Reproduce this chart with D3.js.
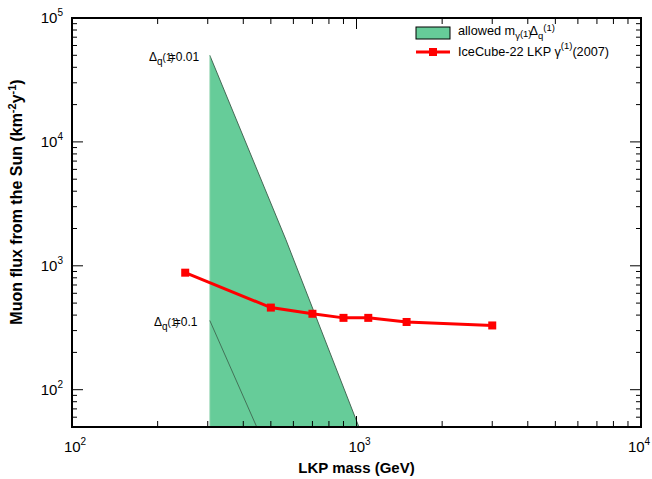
<!DOCTYPE html>
<html><head><meta charset="utf-8">
<script src="https://cdn.jsdelivr.net/npm/d3@7"></script>
<style>body{margin:0;background:#fff}svg{display:block}text{font-family:"Liberation Sans",Arial,Helvetica,sans-serif}</style>
</head><body><svg id="c" width="652" height="479"></svg>
<script>
// Data
const lkpMass = [250, 500, 700, 900, 1100, 1500, 3000];
const lkpFlux = [880, 460, 410, 380, 380, 352, 330];
const allowedMass = [305, 565, 1020];           // upper boundary, Delta=0.01
const allowedFlux = [50000, 1620, 50];
const delta01Mass = [305, 446];
const delta01Flux = [362, 50];
const xTicks = [100, 1000, 10000];
const yTicks = [100, 1000, 10000, 100000];
const xDomain = [100, 10000];
const yDomain = [50, 100000];

const svg = d3.select("#c");
const L = 72, R = 641, T = 18, B = 427;
const x = d3.scaleLog().domain(xDomain).range([L, R]);
const y = d3.scaleLog().domain(yDomain).range([B, T]);

// Allowed region
const poly = [[allowedMass[0], yDomain[0]]].concat(allowedMass.map((m,i)=>[m, allowedFlux[i]]));
svg.append("path")
  .attr("d", d3.line().x(d=>x(d[0])).y(d=>y(d[1]))(poly) + "Z")
  .attr("fill", "#66cc99").attr("stroke", "none");
svg.append("path")
  .attr("d", d3.line().x(d=>x(d[0])).y(d=>y(d[1]))(allowedMass.map((m,i)=>[m, allowedFlux[i]])))
  .attr("fill", "none").attr("stroke", "#3a5a48").attr("stroke-width", 0.9);
svg.append("line").attr("x1", x(allowedMass[0])).attr("x2", x(allowedMass[0]))
  .attr("y1", y(allowedFlux[0])).attr("y2", B).attr("stroke", "#9fd8b9").attr("stroke-width", 0.8);
svg.append("path")
  .attr("d", d3.line().x(d=>x(d[0])).y(d=>y(d[1]))(delta01Mass.map((m,i)=>[m, delta01Flux[i]])))
  .attr("fill", "none").attr("stroke", "#3a5a48").attr("stroke-width", 0.8);

// Red line
const pts = lkpMass.map((m,i)=>[m, lkpFlux[i]]);
svg.append("path")
  .attr("d", d3.line().x(d=>x(d[0])).y(d=>y(d[1]))(pts))
  .attr("fill", "none").attr("stroke", "#ff0000").attr("stroke-width", 3);
svg.selectAll("rect.m").data(pts).join("rect").attr("class","m")
  .attr("x", d=>x(d[0])-4).attr("y", d=>y(d[1])-4).attr("width", 8).attr("height", 8)
  .attr("fill", "#ff0000");

// Ticks (inward, all sides)
const frame = svg.append("g").attr("stroke", "#000").attr("stroke-width", 1);
const xMinor = [], yMinor = [];
for (let d = 100; d < 10000; d *= 10) for (let k = 2; k <= 9; k++) xMinor.push(d*k);
for (let d = 10; d < 100000; d *= 10) for (let k = 2; k <= 9; k++) if (d*k >= yDomain[0]) yMinor.push(d*k);
xTicks.forEach(v=>{
  frame.append("line").attr("x1",x(v)).attr("x2",x(v)).attr("y1",B).attr("y2",B-11);
  frame.append("line").attr("x1",x(v)).attr("x2",x(v)).attr("y1",T).attr("y2",T+11);
});
xMinor.forEach(v=>{
  frame.append("line").attr("x1",x(v)).attr("x2",x(v)).attr("y1",B).attr("y2",B-6);
  frame.append("line").attr("x1",x(v)).attr("x2",x(v)).attr("y1",T).attr("y2",T+6);
});
yTicks.forEach(v=>{
  frame.append("line").attr("y1",y(v)).attr("y2",y(v)).attr("x1",L).attr("x2",L+11);
  frame.append("line").attr("y1",y(v)).attr("y2",y(v)).attr("x1",R).attr("x2",R-11);
});
yMinor.forEach(v=>{
  frame.append("line").attr("y1",y(v)).attr("y2",y(v)).attr("x1",L).attr("x2",L+5);
  frame.append("line").attr("y1",y(v)).attr("y2",y(v)).attr("x1",R).attr("x2",R-5);
});
svg.append("rect").attr("x",L).attr("y",T).attr("width",R-L).attr("height",B-T)
  .attr("fill","none").attr("stroke","#000").attr("stroke-width",2);

// Tick labels
function pow10(g, v, xx, yy, anchor) {
  const e = Math.round(Math.log10(v));
  const t = g.append("text").attr("x", xx).attr("y", yy).attr("text-anchor", anchor)
    .attr("font-size", 15).attr("fill", "#000");
  t.append("tspan").text("10");
  t.append("tspan").attr("font-size", 10).attr("dy", -7).text(e);
}
xTicks.forEach((v,i)=>pow10(svg, v, i === xTicks.length-1 ? x(v)-2 : x(v)+3, 452, "middle"));
yTicks.forEach(v=>pow10(svg, v, 63, y(v)+5, "end"));

// Axis titles
svg.append("text").attr("x", (L+R)/2).attr("y", 473).attr("text-anchor","middle")
  .attr("font-size", 15).attr("font-weight","bold").text("LKP mass (GeV)");
const yt = svg.append("text").attr("transform","translate(22,202) rotate(-90)").attr("text-anchor","middle")
  .attr("font-size", 16).attr("font-weight","bold");
yt.append("tspan").text("Muon flux from the Sun (km");
yt.append("tspan").attr("font-size",11).attr("dy",-6).text("-2");
yt.append("tspan").attr("dy",6).text("y");
yt.append("tspan").attr("font-size",11).attr("dy",-6).text("-1");
yt.append("tspan").attr("dy",6).text(")");

// Delta labels
function deltaLabel(xx, yy, val) {
  const t = svg.append("text").attr("x", xx).attr("y", yy).attr("font-size", 12).attr("fill","#000");
  t.append("tspan").text("Δ");
  t.append("tspan").attr("font-size", 10).attr("dy", 4).text("q");
  t.append("tspan").attr("font-size", 10).attr("dy", -4).text("(1");
  t.append("tspan").attr("font-size", 10).attr("dx", -1).text(")");
  t.append("tspan").attr("dx", -5).text("=" + val);
}
deltaLabel(149, 61, "0.01");
deltaLabel(154, 326, "0.1");

// Legend
const lg = svg.append("g");
lg.append("rect").attr("x", 416).attr("y", 27).attr("width", 34).attr("height", 12)
  .attr("fill", "#66cc99").attr("stroke", "#000").attr("stroke-width", 1);
const l1 = lg.append("text").attr("x", 458).attr("y", 35).attr("font-size", 12.7);
l1.append("tspan").text("allowed m");
l1.append("tspan").attr("font-size", 9.5).attr("dy", 4).text("γ");
l1.append("tspan").attr("font-size", 9.5).attr("dy", -2).text("(1)");
l1.append("tspan").attr("dy", -2).attr("dx", -2).text("Δ");
l1.append("tspan").attr("font-size", 9.5).attr("dy", 4).text("q");
l1.append("tspan").attr("font-size", 9.5).attr("dy", -8).text("(1)");
lg.append("line").attr("x1", 416).attr("x2", 450).attr("y1", 52).attr("y2", 52)
  .attr("stroke", "#ff0000").attr("stroke-width", 3);
lg.append("rect").attr("x", 429).attr("y", 48).attr("width", 8).attr("height", 8).attr("fill", "#ff0000");
const l2 = lg.append("text").attr("x", 458).attr("y", 56).attr("font-size", 12.7);
l2.append("tspan").text("IceCube-22 LKP γ");
l2.append("tspan").attr("font-size", 9.5).attr("dy", -7).text("(1)");
l2.append("tspan").attr("dy", 7).text("(2007)");
</script></body></html>
